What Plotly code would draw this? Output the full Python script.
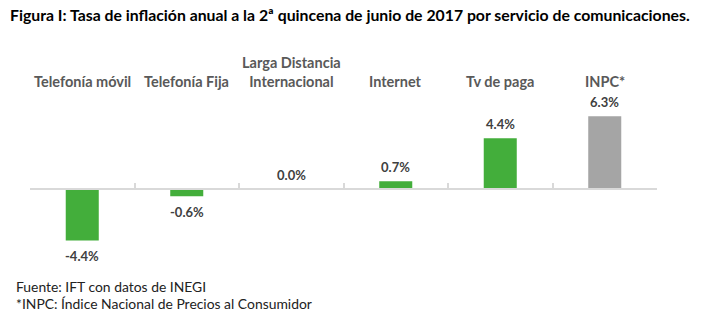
import plotly.graph_objects as go

categories = ["Telefonía móvil", "Telefonía Fija", "Larga Distancia<br>Internacional",
              "Internet", "Tv de paga", "INPC*"]
values = [-4.4, -0.6, 0.0, 0.7, 4.4, 6.3]
colors = ["#43AE3B", "#43AE3B", "#43AE3B", "#43AE3B", "#43AE3B", "#A5A5A5"]

title_text = "Figura I: Tasa de inflación anual a la 2ª quincena de junio de 2017 por servicio de comunicaciones."
footer_lines = ["Fuente: IFT con datos de INEGI",
                "*INPC: Índice Nacional de Precios al Consumidor"]

FONT = "Lato"
W, H = 706, 332
ML, MR, MT, MB = 30, 49, 50, 73
YMIN, YMAX = -6, 12

fig = go.Figure()
fig.add_trace(go.Bar(
    x=list(range(len(categories))), y=values,
    marker=dict(color=colors, line=dict(width=0)),
    width=0.316, hoverinfo="skip",
))

ann = []
for i, (c, v) in enumerate(zip(categories, values)):
    ann.append(dict(x=i, y=v, xref="x", yref="y", text=f"{v:.1f}%",
                    showarrow=False, yshift=(14 if v >= 0 else -16),
                    font=dict(family=FONT, size=13, color="#404040", weight="bold")))
    ann.append(dict(x=i, y=8.4, xref="x", yref="y", text=c, showarrow=False,
                    yanchor="bottom", align="center",
                    font=dict(family=FONT, size=14.5, color="#595959", weight="bold")))

pw = W - ML - MR
for k, line in enumerate(footer_lines):
    ann.append(dict(xref="paper", yref="paper", x=(14 - ML) / pw, xanchor="left",
                    y=1 - ((286 + k * 17) - MT) / (H - MT - MB), yanchor="middle",
                    text=line, showarrow=False,
                    font=dict(family=FONT, size=13.9, color="#222222")))

fig.update_layout(
    width=W, height=H,
    margin=dict(l=ML, r=MR, t=MT, b=MB),
    paper_bgcolor="white", plot_bgcolor="white",
    showlegend=False,
    title=dict(text=title_text, xref="container", yref="container",
               x=10 / W, xanchor="left", y=1 - 15 / H, yanchor="middle",
               font=dict(family=FONT, size=15.8, color="#000000", weight="bold")),
    annotations=ann,
    xaxis=dict(type="linear", range=[-0.5, len(categories) - 0.5],
               anchor="free", position=(0 - YMIN) / (YMAX - YMIN),
               showline=True, linecolor="#D9D9D9", linewidth=1.5,
               tickmode="array", tickvals=[i - 0.5 for i in range(len(categories) + 1)],
               ticks="inside", ticklen=6, tickcolor="#D9D9D9", tickwidth=1.5,
               showticklabels=False, showgrid=False, zeroline=False, fixedrange=True),
    yaxis=dict(range=[YMIN, YMAX], visible=False, showgrid=False, zeroline=False),
)

fig.write_html("out.html")
